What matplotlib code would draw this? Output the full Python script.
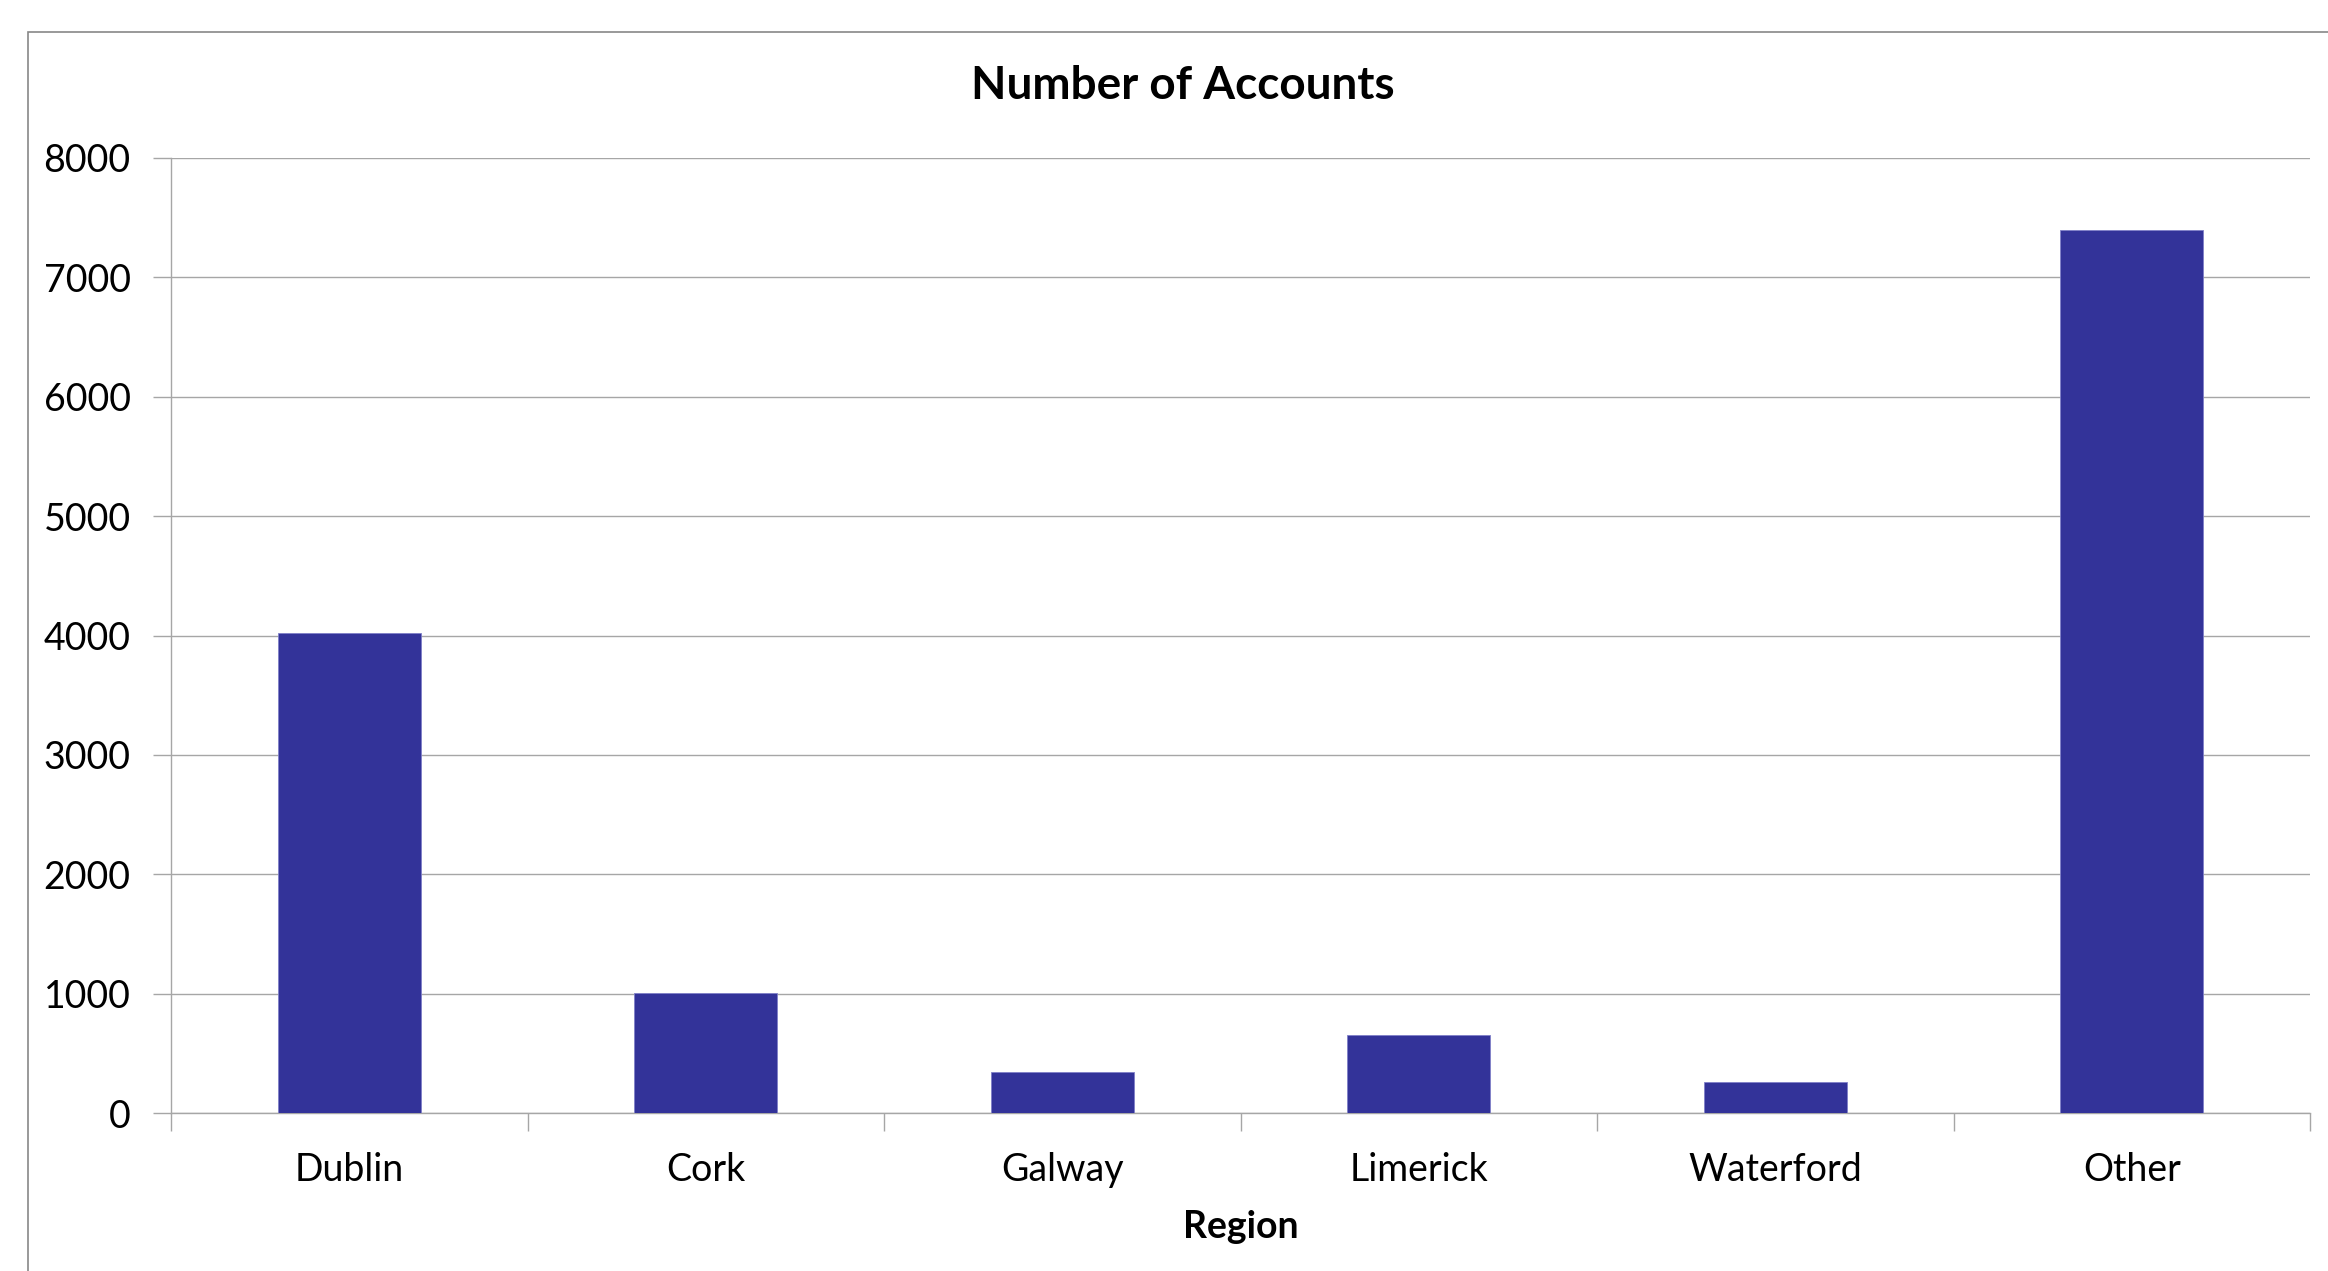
"""Number of accounts by region, Excel-style column chart."""
import matplotlib

matplotlib.use("Agg")
import matplotlib.pyplot as plt
import numpy as np
from matplotlib.patches import Rectangle

REGIONS = ["Dublin", "Cork", "Galway", "Limerick", "Waterford", "Other"]
ACCOUNTS = [4020, 1003, 343, 656, 257, 7395]
Y_TICKS = [0, 1000, 2000, 3000, 4000, 5000, 6000, 7000, 8000]

BAR = "#333399"
GRID = "#A6A6A6"

plt.rcParams["font.family"] = ["Lato", "DejaVu Sans"]

fig = plt.figure(figsize=(23.28, 12.71), dpi=100)
ax = fig.add_axes([171/2328, 1 - 1113/1271, (2310-171)/2328, (1113-158)/1271])

# outer chart-area frame, cropped at right/bottom like the source
fig.patches.append(Rectangle((28/2328, -0.05), 1.0, 1 - 32/1271 + 0.05, transform=fig.transFigure,
                             fill=False, edgecolor="#878787", linewidth=1.2))

x = np.arange(len(REGIONS))
ax.bar(x, ACCOUNTS, width=0.4, color=BAR, edgecolor="#8080C8", linewidth=0.6, zorder=3)

ax.set_xlim(-0.5, len(REGIONS) - 0.5)
ax.set_ylim(0, 8000)
ax.set_yticks(Y_TICKS)
ax.set_yticklabels([str(v) for v in Y_TICKS])
ax.set_xticks(x)
ax.set_xticklabels(REGIONS)
ax.set_xticks(np.arange(-0.5, len(REGIONS)), minor=True)
ax.grid(axis="y", color=GRID, linewidth=1.0, zorder=0)
ax.tick_params(axis="y", length=13, width=1.0, color=GRID, pad=16, labelsize=27)
ax.tick_params(axis="x", which="major", length=0, pad=28, labelsize=27)
ax.tick_params(axis="x", which="minor", length=13, width=1.0, color=GRID)
for side in ("top", "right"):
    ax.spines[side].set_visible(False)
for side in ("left", "bottom"):
    ax.spines[side].set_color(GRID)
    ax.spines[side].set_linewidth(1.0)

ax.set_xlabel("Region", fontsize=27, fontweight="bold", labelpad=16)
fig.text(1183/2328, 1 - 86/1271, "Number of Accounts", ha="center", va="center",
         fontsize=33, fontweight="bold")

fig.savefig("out.png", dpi=100)
